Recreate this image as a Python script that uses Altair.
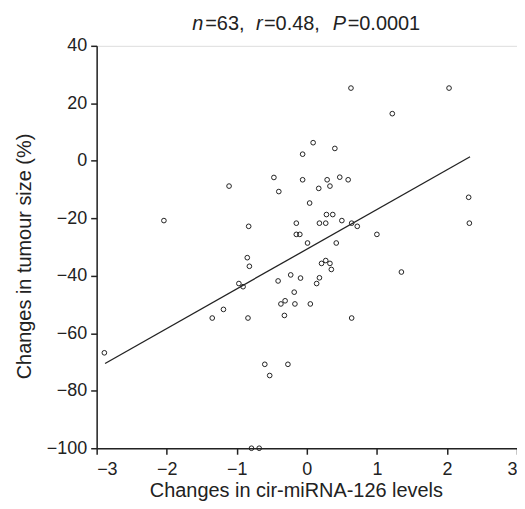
import altair as alt
import pandas as pd

# Scatter data
x_vals = [-2.04, -1.11, -0.47, -0.40, -0.83, -0.15, -0.15, -0.10, 0.63, 2.03,
          1.22, 0.09, -0.06, 0.40, -0.06, 0.29, 0.33, 0.17, 0.47, 0.59,
          0.04, 2.31, 2.32, 0.28, 0.37, 0.18, 0.27, 0.50, 0.64, 0.72,
          1.00, 0.01, 0.42, -0.85, -0.82, -0.97, -0.91, -1.19, -1.35, -0.84,
          -2.89, -0.41, -0.23, -0.09, -0.18, -0.37, -0.31, -0.17, -0.32, -0.60,
          -0.27, -0.53, -0.79, -0.68, 0.27, 0.21, 0.33, 0.35, 1.35, 0.18,
          0.14, 0.05, 0.64]
y_vals = [-20.8, -8.8, -5.8, -10.7, -22.8, -21.7, -25.6, -25.6, 25.3, 25.3,
          16.4, 6.3, 2.3, 4.3, -6.6, -6.6, -8.8, -9.6, -5.7, -6.6,
          -14.7, -12.7, -21.7, -18.7, -18.7, -21.7, -21.7, -20.8, -21.7, -22.8,
          -25.6, -28.6, -28.6, -33.7, -36.7, -42.7, -43.8, -51.7, -54.7, -54.7,
          -66.8, -41.8, -39.7, -40.8, -45.7, -49.8, -48.7, -49.8, -53.8, -70.8,
          -70.8, -74.7, -100.0, -100.0, -34.7, -35.7, -35.7, -37.8, -38.7, -40.7,
          -42.7, -49.8, -54.7]

# Fitted line end points
fit_x = [-2.88, 2.33]
fit_y = [-70.5, 1.4]

x_ticks = [-3, -2, -1, 0, 1, 2, 3]
y_ticks = [-100, -80, -60, -40, -20, 0, 20, 40]

title_parts = ["n", "=63,", "r", "=0.48,", "P", "=0.0001"]
title_italic = [True, False, True, False, True, False]

FONT = "Liberation Sans"

pts = pd.DataFrame({"x": x_vals, "y": y_vals})
fit = pd.DataFrame({"x": fit_x, "y": fit_y})

xscale = alt.Scale(domain=[-3, 3], nice=False, zero=False)
yscale = alt.Scale(domain=[-100, 40], nice=False, zero=False)

xaxis = alt.Axis(values=x_ticks, format="d", title="Changes in cir-miRNA-126 levels", grid=False,
                 domainColor="#222", domainWidth=1.5, tickColor="#222", tickWidth=1.5,
                 tickSize=6, labelPadding=6, labelFontSize=18, labelFont=FONT,
                 labelColor="#222", titleFont=FONT, titleFontSize=20, titleFontWeight="normal",
                 titleColor="#222", titleX=200, titleY=48, titleBaseline="alphabetic",
                 titleAnchor="middle", titleAlign="center")
yaxis = alt.Axis(values=y_ticks, format="d", title="Changes in tumour size (%)", grid=False,
                 domainColor="#222", domainWidth=1.5, tickColor="#222", tickWidth=1.5,
                 tickSize=6, labelPadding=4, labelFontSize=18, labelFont=FONT,
                 labelColor="#222", titleFont=FONT, titleFontSize=20, titleFontWeight="normal",
                 titleColor="#222", titleX=-66, titleY=211, titleBaseline="alphabetic",
                 titleAlign="center", titleAngle=270)

points = alt.Chart(pts).mark_point(filled=False, color="#222", size=22, strokeWidth=1, opacity=1).encode(
    x=alt.X("x:Q", scale=xscale, axis=xaxis),
    y=alt.Y("y:Q", scale=yscale, axis=yaxis),
)

line = alt.Chart(fit).mark_line(color="#222", strokeWidth=1.3).encode(
    x=alt.X("x:Q", scale=xscale),
    y=alt.Y("y:Q", scale=yscale),
)

title_x = [96, 109, 160, 168, 237, 252]
title_layers = []
one = pd.DataFrame({"d": [0]})
for txt, it, px in zip(title_parts, title_italic, title_x):
    title_layers.append(
        alt.Chart(one).mark_text(text=txt, font=FONT, fontSize=20,
                                 fontStyle="italic" if it else "normal",
                                 align="left", baseline="alphabetic", color="#222")
        .encode(x=alt.value(px), y=alt.value(-16))
    )

chart = alt.layer(points, line, *title_layers).properties(
    width=422, height=404,
    padding={"left": 89, "top": 37, "right": 0, "bottom": 52},
    autosize=alt.AutoSizeParams(type="none"),
).configure_view(stroke=None, fill="#fcfcfc").configure(background="white")

chart.save("out.html", embed_options={"renderer": "svg", "actions": False})
